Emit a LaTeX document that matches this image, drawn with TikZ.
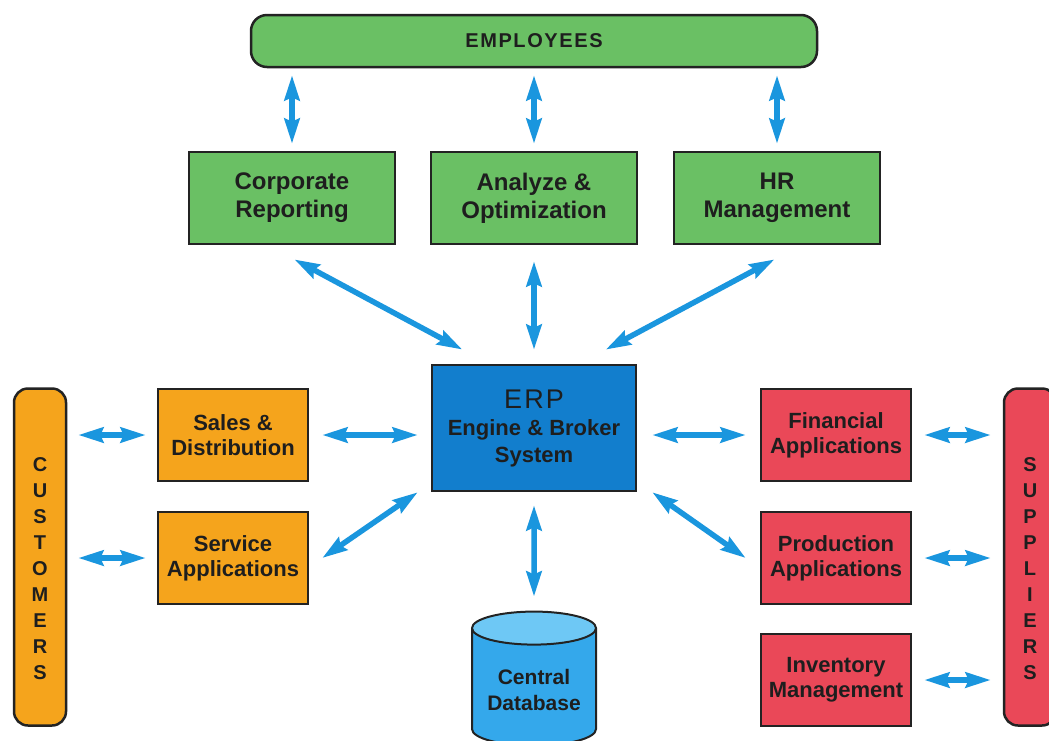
\documentclass[tikz,border=0pt]{standalone}
\usepackage{fontspec}
\setmainfont{Liberation Sans}
\newfontfamily\spacedfont[LetterSpace=8]{Liberation Sans}
\usetikzlibrary{arrows.meta, positioning, shapes.geometric, calc}
\definecolor{empgreen}{RGB}{106,192,100}
\definecolor{custorange}{RGB}{245,164,28}
\definecolor{suppred}{RGB}{234,72,88}
\definecolor{erpblue}{RGB}{18,126,205}
\definecolor{dbblue}{RGB}{52,168,235}
\definecolor{dbtop}{RGB}{110,200,245}
\definecolor{arrowblue}{RGB}{26,150,222}
\definecolor{boxline}{RGB}{35,35,35}
\definecolor{textdark}{RGB}{30,30,30}

\begin{document}
\begin{tikzpicture}[
    x=1pt, y=-1pt,
    box/.style={rectangle, draw=boxline, line width=2.5pt, align=center, text=textdark, font=\bfseries\fontsize{22}{25}\selectfont},
    topbox/.style={box, fill=empgreen, minimum width=206pt, minimum height=92pt, font=\bfseries\fontsize{24}{28}\selectfont},
    salesbox/.style={box, fill=custorange, minimum width=150pt, minimum height=92pt},
    finbox/.style={box, fill=suppred, minimum width=150pt, minimum height=92pt},
    sidebar/.style={rectangle, rounded corners=14pt, draw=boxline, line width=2.5pt, minimum width=52pt, minimum height=337pt},
    letters/.style={align=center, text=textdark, font=\bfseries\fontsize{20}{26}\selectfont},
    link/.style={draw=arrowblue, line width=5.5pt, {Stealth[length=25pt,width=15pt,inset=3pt]}-{Stealth[length=25pt,width=15pt,inset=3pt]}, shorten <=7pt, shorten >=7pt}
]
    % Frame of the picture
    \path[use as bounding box, fill=white] (0,0) rectangle (1049,740);
    \clip (0,0) rectangle (1049,740);

    % Top row
    \node[rectangle, rounded corners=16pt, draw=boxline, line width=2.5pt, fill=empgreen, minimum width=566pt, minimum height=52pt, text=textdark, font=\spacedfont\bfseries\fontsize{20}{24}\selectfont] (emp) at (534,41) {EMPLOYEES};

    \node[topbox] (corp) at (292,198) {Corporate\\Reporting};
    \node[topbox] (analyze) at (534,198) {Analyze \&\\Optimization};
    \node[topbox] (hr) at (777,198) {HR\\Management};

    % Engine in the middle
    \node[box, fill=erpblue, minimum width=204pt, minimum height=126pt, font=\bfseries\fontsize{22}{27}\selectfont] (erp) at (534,428)
        {{\spacedfont\mdseries\fontsize{27}{28}\selectfont ERP}\\Engine \& Broker\\System};

    % Customer side
    \node[sidebar, fill=custorange] (cust) at (40,557) {};
    \node[letters] (custtext) at (40,569) {C\\U\\S\\T\\O\\M\\E\\R\\S};
    \node[salesbox] (sales) at (233,435) {Sales \&\\Distribution};
    \node[salesbox] (service) at (233,558) {Service\\Applications};

    % Supplier side
    \node[sidebar, fill=suppred] (supp) at (1030,557) {};
    \node[letters] (supptext) at (1030,569) {S\\U\\P\\P\\L\\I\\E\\R\\S};
    \node[finbox] (fin) at (836,435) {Financial\\Applications};
    \node[finbox] (prod) at (836,558) {Production\\Applications};
    \node[finbox] (inv) at (836,680) {Inventory\\Management};

    % Database
    \node[cylinder, shape border rotate=90, aspect=0.33, minimum width=124pt, minimum height=134pt, draw=boxline, line width=2pt,
          cylinder uses custom fill, cylinder body fill=dbblue, cylinder end fill=dbtop,
          align=center, text=textdark, font=\bfseries\fontsize{21}{26}\selectfont] (db) at (534,690) {Central\\Database};

    % Employees to the top boxes
    \draw[link] (emp.south -| corp.north) -- (corp.north);
    \draw[link] (emp.south -| analyze.north) -- (analyze.north);
    \draw[link] (emp.south -| hr.north) -- (hr.north);

    % Top boxes to the engine
    \draw[link, shorten <=30pt, shorten >=30pt] ([xshift=-24pt]corp.south) -- ([xshift=58pt]erp.north west);
    \draw[link, shorten <=16pt, shorten >=14pt] (analyze.south) -- (erp.north);
    \draw[link, shorten <=30pt, shorten >=30pt] ([xshift=24pt]hr.south) -- ([xshift=-58pt]erp.north east);

    % Engine to the side boxes
    \draw[link, shorten <=13pt, shorten >=13pt] (sales.east) -- (sales.east -| erp.west);
    \draw[link, shorten <=0pt, shorten >=0pt] ([xshift=-13pt]erp.south west) -- ([xshift=13pt]service.east);
    \draw[link, shorten <=15pt, shorten >=14pt] (erp.east |- fin.west) -- (fin.west);
    \draw[link, shorten <=0pt, shorten >=0pt] ([xshift=15pt]erp.south east) -- ([xshift=-14pt]prod.west);
    \draw[link, shorten <=13pt, shorten >=14pt] (erp.south) -- (db.north);

    % Customers and suppliers
    \draw[link, shorten <=11pt, shorten >=11pt] (sales.west -| cust.east) -- (sales.west);
    \draw[link, shorten <=11pt, shorten >=11pt] (service.west -| cust.east) -- (service.west);
    \draw[link, shorten <=12pt, shorten >=12pt] (fin.east) -- (fin.east -| supp.west);
    \draw[link, shorten <=12pt, shorten >=12pt] (prod.east) -- (prod.east -| supp.west);
    \draw[link, shorten <=12pt, shorten >=12pt] (inv.east) -- (inv.east -| supp.west);
\end{tikzpicture}
\end{document}
